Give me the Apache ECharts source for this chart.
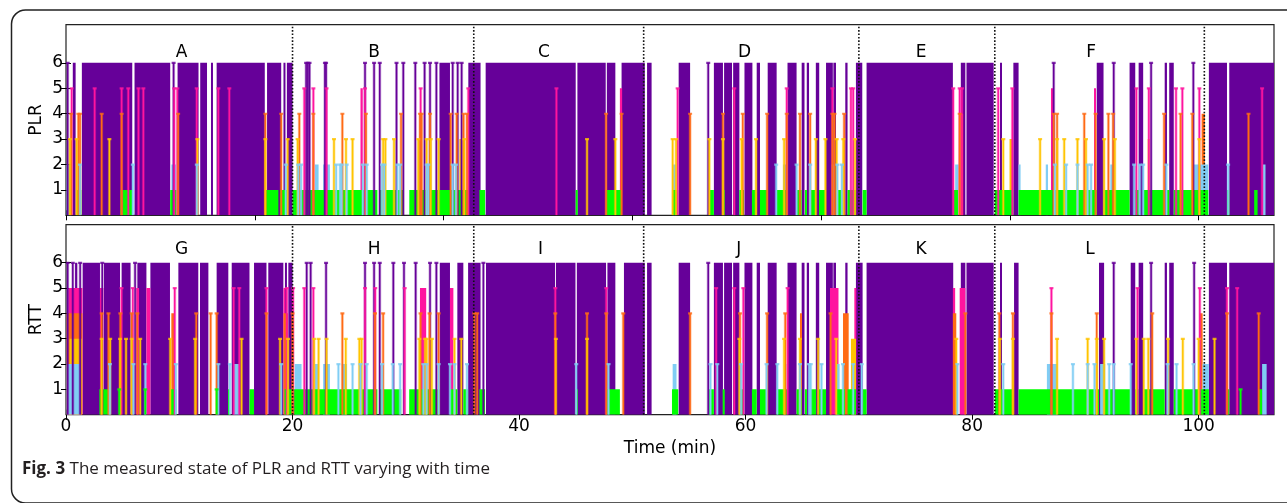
<!DOCTYPE html>
<html>
<head>
<meta charset="utf-8">
<script src="https://cdn.jsdelivr.net/npm/echarts@6.0.0/dist/echarts.min.js"></script>
<style>
html,body{margin:0;padding:0;background:#fff;}
#chart{width:1287px;height:503px;}
</style>
</head>
<body>
<div id="chart"></div>
<script>
// ================= DATA =================
const timeMax = 106.65;                 // minutes
const stateMax = 7.5;
const stateTicks = [1, 2, 3, 4, 5, 6];
const plrTickSeconds = [0, 1000, 2000, 3000, 4000, 5000, 6000];
const timeTicks = [0, 20, 40, 60, 80, 100];
const phaseBounds = [20, 36, 51, 70, 82, 100.5];
const plrPhaseNames = ['A', 'B', 'C', 'D', 'E', 'F'];
const rttPhaseNames = ['G', 'H', 'I', 'J', 'K', 'L'];
const plrPhaseCenters = [10.2, 27.2, 42.2, 59.9, 75.5, 90.5];
const rttPhaseCenters = [10.2, 27.2, 41.9, 59.4, 75.5, 90.4];
const phaseLabelLevel = [6.4, 6.5];

// State samples: [start, end] = run of consecutive samples, single number = one sample (minutes)
const plr6 = [0.15, [0.6,0.85], [1.4,5.85], [6.05,9.2], 9.5, [9.85,11.7], [11.85,12.45], [12.8,12.95], [13.3,17.55], [17.75,19.0], [19.2,19.3], [19.5,20.0],
  21.2, 21.35, 21.5, 22.86, 22.96, 26.4, 27.2, 27.7, 29.18, 29.78, 30.84, 31.66, 32.14, 32.7, [32.97,33.9], 34.14, 34.58, 34.93, [35.52,36.6],
  [37.05,45.0], [45.15,47.65], [47.75,48.5], [49.05,51.1],
  [51.3,51.7], [54.09,55.1], 56.7, [57.2,58.0], [58.1,58.8], [58.9,59.45], [59.9,60.6], [60.98,61.27], [61.95,62.74], [63.7,64.5], [64.95,65.2], [65.4,65.6], [66.2,66.5], [67.1,67.7], [67.75,67.98], [68.8,69.0], [69.74,70.3],
  [70.68,78.3], [79.0,79.4], [79.5,81.9],
  [82.46,82.6], [83.64,84.1], 87.2, [91.0,91.6], 92.5, [93.9,94.4], [94.7,95.1], 95.8, [97.0,97.2], [97.4,97.8], 99.53, [100.9,102.5], [102.7,106.65]];
const plr5 = [0.5, 2.53, 4.91, 5.5, 6.4, 6.83, 9.55, 9.83, 11.54, 13.45, 14.42,
  21.04, 21.84, 23.0, [26.0,26.2], 26.4, 31.31, 35.52,
  43.3, [48.9,49.1],
  54.0, 59.0, 63.63, 67.66, 69.3, 69.5,
  78.33, 78.9, 79.1,
  82.3, 83.55, [86.96,87.1], [90.76,90.9], 94.5, 95.6, 98.0, 98.56, 100.06, 105.6];
const plr4 = [0.45, 1.09, 1.24, 3.15, 4.91, 9.9, 17.6, 19.0,
  20.6, 21.84, 24.4, 26.48, 29.58, 31.25, 31.4, 32.14, 33.96, 34.49, 35.1, 35.4,
  47.68, 49.05,
  55.1, 58.0, 59.75, 61.9, 63.63, 64.8, 65.7, 67.66, 67.85, 68.7,
  78.9, [79.0,79.2],
  87.2, 87.5, 89.9, 90.9, 92.03, 92.45, 96.95, 98.4, 99.44, [100.26,100.55], 104.4];
const plr3 = [0.35, 0.94, 3.83, 11.6, 17.6, 19.57,
  20.45, 23.66, 24.72, 25.3, 28.0, 28.2, 28.96, 31.1, 31.84, 32.2, 32.9, [34.73,34.95], 35.17,
  46.0, 48.5,
  53.56, 53.86, 56.8, 58.0, 59.65, 60.92, 63.4, 66.2, 67.05, 68.04, 68.63, 69.66,
  82.75, [83.3,83.55], 86.0, 87.5, 88.13, 89.3, 90.05, 91.65, 92.6, [95.5,95.6], 100.06];
const plr2 = [[0.05,0.45], 1.24, 5.9, [9.3,9.7], 11.55, 19.4,
  20.5, 20.75, [21.98,22.3], [22.7,23.3], 23.85, 24.2, 24.34, 24.78, 26.2, 26.55, 27.9, 28.1, 29.25, 29.5, 31.84, 31.99, 34.14, 34.43,
  [53.6,53.85], 62.7, [63.3,63.63], 64.5, 65.7, [67.6,67.8], 68.1, 68.5,
  [78.5,78.8],
  [84.1,84.2], [86.5,86.7], 87.3, 88.3, 89.3, 90.2, 90.5, [92.2,92.4], 94.3, 94.8, 95.1, 97.15, [99.6,100.85], 102.6, [105.65,105.9]];
const plr1 = [[0.88,1.35], [4.77,5.89], [9.2,9.75], [17.57,18.75], [18.9,19.6],
  [20.0,27.49], [27.67,29.84], [30.31,35.5],
  [36.5,37.0], [45.0,45.15], [47.7,49.05],
  [53.5,54.05], [56.75,57.2], [57.98,58.1], [59.45,59.86], [60.56,60.98], [61.27,61.95], [62.74,63.7], [64.5,64.95], [65.24,65.4], [65.63,66.22], [66.48,67.1], [67.98,68.77], [69.0,69.74], [70.33,70.68],
  [78.3,78.75],
  [81.99,83.64], [84.1,91.0], [91.6,93.9], [94.4,94.7], [95.1,97.0], [97.2,97.4], [97.8,100.85], [102.5,102.7], [104.9,105.2]];

const rtt6 = [0.15, 0.6, [0.8,1.0], 1.25, [1.47,3.0], 3.2, [3.35,4.77], [4.91,5.7], 6.1, [6.3,7.1], [7.45,9.18], [9.92,11.68], [11.83,12.57], [13.3,14.33], [14.63,16.2], [16.6,17.7], [17.86,19.19], [19.33,19.48], [19.63,20.0],
  21.25, 21.6, 22.96, 26.4, 27.2, 27.7, 28.9, 29.84, 30.87, 32.14, 32.7, [33.0,33.9], [34.55,35.08], [35.5,36.6], 36.85,
  [37.08,43.18], [43.26,44.98], [45.1,47.68], [47.8,48.5], [49.26,51.1],
  [51.3,51.7], [54.09,55.1], 56.7, [57.2,58.0], [58.1,58.8], [58.9,59.45], [59.9,60.6], [60.98,61.27], [61.95,62.74], [63.7,64.5], [64.95,65.2], [65.4,65.6], [66.2,66.5], [67.1,67.7], [67.75,67.98], [68.8,69.0], [69.74,70.33],
  [70.68,78.33], [79.0,79.4], [79.5,81.9],
  [82.46,82.6], [83.7,84.1], [91.2,91.65], 92.5, [94.0,94.4], [94.7,95.1], 95.8, [97.0,97.2], [97.4,97.8], 99.6, [100.9,102.5], [102.7,106.65]];
const rtt5 = [[0.2,1.45], [3.0,3.3], 4.9, 5.9, [6.2,6.45], [7.1,7.45], 9.6, 14.8, 15.3, 17.7, [19.2,19.33], 19.5,
  20.05, 21.04, 21.84, 26.4, 27.3, 29.9, [31.25,31.8], [33.9,34.2],
  43.2, 47.7,
  57.4, 59.0, 59.8, 63.71, [67.45,68.2], [69.6,69.75],
  [78.3,78.5], [78.9,79.4],
  87.0, 94.6, 100.1, 102.5, 103.4];
const rtt4 = [[0.05,1.45], 3.15, 3.75, 4.8, 5.8, 6.3, [9.3,9.6], 11.5, 12.77, 13.3, 17.7, [19.2,19.6],
  20.0, 24.4, 27.28, 28.0, 31.3, 32.1, 32.9, 36.05,
  36.3, 43.2, 46.0, 47.7, 49.2,
  55.1, 59.5, 61.9, 63.5, [64.8,64.95], 67.5, [68.6,69.1],
  [78.3,78.6], 79.4,
  82.4, 83.6, 87.0, 91.0, 95.9, [100.06,100.35], 102.5, 105.3];
const rtt3 = [[0.3,1.4], 3.15, 3.9, 4.77, 5.3, 5.8, 6.55, 9.2, 11.4, 15.5, 18.9, 19.6,
  21.9, 22.3, 23.0, 24.7, 25.9, 26.1, 31.2, 31.7, 31.85, 32.3, 34.3, 34.9,
  43.25, 46.0,
  59.45, 63.4, 64.8, 66.4, 68.0, [69.3,69.75],
  78.6,
  82.45, 83.6, 87.5, 90.2, 91.0, 91.65, 94.5, 95.15, 95.55, 97.3, 98.6, 100.0, 101.4];
const rtt2 = [[0.05,1.3], 3.88, 5.95, 7.0, 9.7, 13.45, 14.47, [14.8,15.3], 19.0,
  [20.2,20.8], [21.98,22.3], [22.7,23.3], 24.05, [24.35,24.8], 25.3, 26.0, 26.55, 27.9, 28.85, 29.5, 31.55, 31.84, 32.9, 33.9, 34.3, 35.4,
  45.05, 47.9,
  [53.56,53.9], 56.9, 57.5, 59.6, 61.85, 62.8, [63.4,63.6], 64.8, 65.6, 65.75, 66.7, [68.0,68.3], 68.6, 69.5, 70.25,
  78.7,
  82.75, [86.6,87.5], 88.9, 90.2, 90.8, [91.3,91.75], 92.1, 92.5, 94.0, 97.25, 98.05, 99.55, [100.35,100.9], [105.6,106.0]];
const rtt1 = [[2.95,3.88], 4.7, 7.0, [9.2,9.75], 13.3, [14.3,14.45], [16.2,16.6], [19.3,20.0],
  [20.0,27.49], [27.67,29.6], [30.3,33.0], [33.9,34.55], [35.08,35.5],
  [36.5,37.0], [45.0,45.15], [47.7,48.9],
  [53.5,54.05], [56.75,57.2], [57.98,58.1], [59.45,59.86], [60.56,60.98], [61.27,61.95], [62.74,63.7], [64.5,64.95], [65.24,65.4], [65.63,66.22], [66.48,67.1], [67.98,68.77], [69.0,69.74], [70.33,70.68],
  [82.0,83.7], [84.1,91.2], [91.65,94.0], [94.4,94.7], [95.1,97.0], [97.2,97.4], [97.8,100.9], [102.5,102.7], 103.7, [105.3,105.6]];

// ================= STYLE =================
const stateColor = {1: '#00ff00', 2: '#80cdf4', 3: '#ffc400', 4: '#ff6a14', 5: '#ff149f', 6: '#660099'};
const axisFont = 'DejaVu Sans';

function blockRender(color) {
  return function (params, api) {
    const a = api.coord([api.value(0), 0]);
    const b = api.coord([api.value(1), api.value(2)]);
    const w = Math.max(b[0] - a[0], 2);
    return {type: 'rect', shape: {x: a[0], y: b[1], width: w, height: a[1] - b[1]}, style: {fill: color}};
  };
}
function spikeRender(color) {
  return function (params, api) {
    const a = api.coord([api.value(0), 0]);
    const b = api.coord([api.value(0), api.value(1)]);
    return {type: 'group', children: [
      {type: 'rect', shape: {x: a[0] - 1.5, y: b[1], width: 3, height: a[1] - b[1]}, style: {fill: color, opacity: 0.35}},
      {type: 'rect', shape: {x: a[0] - 0.75, y: b[1], width: 1.5, height: a[1] - b[1]}, style: {fill: color}},
      {type: 'rect', shape: {x: b[0] - 2, y: b[1] - 1, width: 4, height: 2.2}, style: {fill: color, opacity: 0.8}}
    ]};
  };
}

function panelSeries(arrays, idx) {
  const out = [];
  [6, 5, 4, 3, 2, 1].forEach(function (s) {
    const blocks = arrays[s].filter(e => Array.isArray(e)).map(e => [e[0], e[1], s]);
    out.push({type: 'custom', xAxisIndex: idx, yAxisIndex: idx, data: blocks, encode: {x: [0, 1], y: 2},
      renderItem: blockRender(stateColor[s]), silent: true, clip: true});
  });
  [6, 5, 4, 3, 2, 1].forEach(function (s) {
    const spikes = arrays[s].filter(e => !Array.isArray(e)).map(e => [e, s]);
    out.push({type: 'custom', xAxisIndex: idx, yAxisIndex: idx, data: spikes, encode: {x: 0, y: 1},
      renderItem: spikeRender(stateColor[s]), silent: true, clip: true});
  });
  // phase dividers
  out.push({type: 'custom', xAxisIndex: idx, yAxisIndex: idx, data: phaseBounds.map(v => [v]), encode: {x: 0},
    silent: true, z: 5,
    renderItem: function (params, api) {
      const a = api.coord([api.value(0), 0]);
      const b = api.coord([api.value(0), stateMax]);
      return {type: 'line', shape: {x1: a[0], y1: a[1], x2: b[0], y2: b[1]},
        style: {stroke: '#111', lineWidth: 1.6, lineDash: [1.6, 1.8]}};
    }});
  return out;
}
function phaseLabels(names, centers, level, idx) {
  return {type: 'custom', xAxisIndex: idx, yAxisIndex: idx, z: 6, silent: true,
    data: names.map((n, i) => [centers[i], level, n]), encode: {x: 0, y: 1},
    renderItem: function (params, api) {
      const p = api.coord([api.value(0), api.value(1)]);
      return {type: 'text', x: p[0], y: p[1], style: {text: names[params.dataIndex], fontFamily: axisFont,
        fontSize: 17, fill: '#000', align: 'center', verticalAlign: 'middle'}};
    }};
}

function xAxisDef(grid, pos, ticks, showLabel, name) {
  return {type: 'value', gridIndex: grid, position: pos, min: 0, max: timeMax,
    name: name || '', nameLocation: 'middle', nameGap: 25, nameMoveOverlap: false,
    nameTextStyle: {fontFamily: axisFont, fontSize: 17, color: '#000'},
    axisLine: {show: false}, splitLine: {show: false},
    axisTick: {show: true, inside: true, length: 5, customValues: ticks, lineStyle: {color: '#000', width: 1}},
    axisLabel: {show: showLabel, customValues: ticks, fontFamily: axisFont, fontSize: 17, color: '#000', margin: 3}};
}
function yAxisDef(grid, pos, showLabel, name) {
  return {type: 'value', gridIndex: grid, position: pos, min: 0, max: stateMax,
    name: name || '', nameLocation: 'middle', nameGap: 21, nameMoveOverlap: false,
    nameTextStyle: {fontFamily: axisFont, fontSize: 17, color: '#000'},
    axisLine: {show: false}, splitLine: {show: false},
    axisTick: {show: true, inside: true, length: 5, customValues: stateTicks, lineStyle: {color: '#000', width: 1}},
    axisLabel: {show: showLabel, customValues: stateTicks, fontFamily: axisFont, fontSize: 17, color: '#000', margin: 3}};
}

const plrArrays = {1: plr1, 2: plr2, 3: plr3, 4: plr4, 5: plr5, 6: plr6};
const rttArrays = {1: rtt1, 2: rtt2, 3: rtt3, 4: rtt4, 5: rtt5, 6: rtt6};
const plrSecondsAsMin = plrTickSeconds.map(s => s / 60);

const option = {
  animation: false,
  backgroundColor: '#fff',
  grid: [
    {left: 66, top: 24.7, width: 1208, height: 190.6, show: true, borderColor: '#222', borderWidth: 1.2, backgroundColor: 'transparent', containLabel: false, outerBoundsMode: 'none'},
    {left: 66, top: 224.7, width: 1208, height: 190, show: true, borderColor: '#222', borderWidth: 1.2, backgroundColor: 'transparent', containLabel: false, outerBoundsMode: 'none'}
  ],
  xAxis: [
    xAxisDef(0, 'bottom', plrSecondsAsMin, false),
    xAxisDef(1, 'bottom', timeTicks, true, 'Time (min)'),
    xAxisDef(0, 'top', plrSecondsAsMin, false),
    xAxisDef(1, 'top', timeTicks, false)
  ],
  yAxis: [
    yAxisDef(0, 'left', true, 'PLR'),
    yAxisDef(1, 'left', true, 'RTT'),
    yAxisDef(0, 'right', false),
    yAxisDef(1, 'right', false)
  ],
  graphic: [
    {type: 'rect', left: 9, top: 7.5, shape: {width: 1320, height: 493, r: 14}, silent: true,
      style: {fill: 'none', stroke: '#222', lineWidth: 1.5}},
    {type: 'text', left: 22, top: 461, silent: true,
      style: {text: '{b|Fig. 3} The measured state of PLR and RTT varying with time',
        fontFamily: 'Open Sans', fontSize: 17, fill: '#231f20',
        rich: {b: {fontFamily: 'Open Sans', fontSize: 17, fontWeight: 'bold', fill: '#231f20'}}}}
  ],
  series: [].concat(
    panelSeries(plrArrays, 0),
    panelSeries(rttArrays, 1),
    [phaseLabels(plrPhaseNames, plrPhaseCenters, phaseLabelLevel[0], 0),
     phaseLabels(rttPhaseNames, rttPhaseCenters, phaseLabelLevel[1], 1)]
  )
};

const chart = echarts.init(document.getElementById('chart'), null, {renderer: 'canvas'});
chart.setOption(option);
</script>
</body>
</html>
